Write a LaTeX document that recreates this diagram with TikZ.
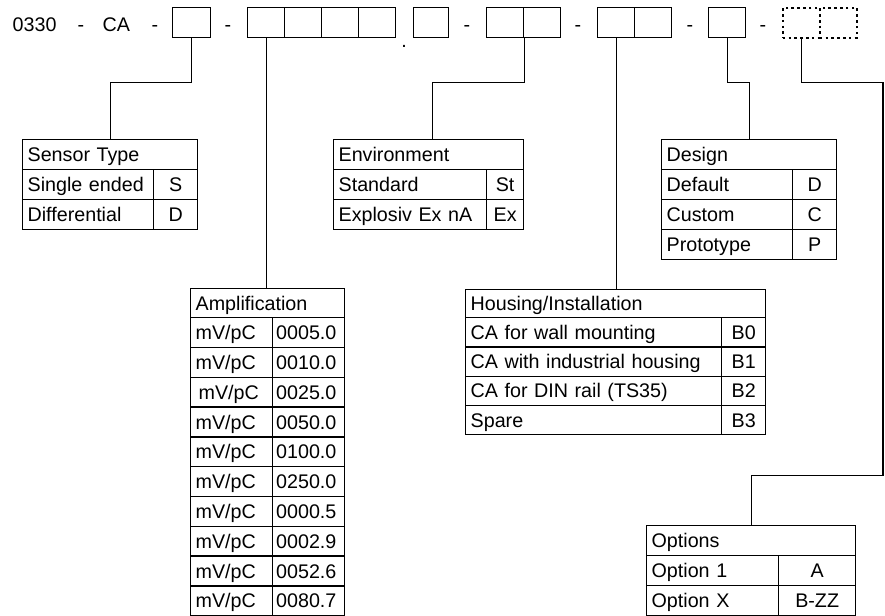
\documentclass[tikz,border=0pt]{standalone}
\usepackage{fontspec}
\setmainfont{Liberation Sans}
\usetikzlibrary{calc}

% table cells: left-aligned text, centred text, numbers with a narrow pad
\tikzset{
  every node/.style={font=\fontsize{19.7}{22}\selectfont},
  cellbase/.style={draw=black, line width=1.3pt, rectangle, anchor=north west,
    inner ysep=0pt, text height=14.1pt, text depth=0pt},
  cellleft/.style={cellbase, inner xsep=5pt, align=left},
  cellnum/.style={cellbase, inner xsep=3.5pt, align=left},
  cellmid/.style={cellbase, inner xsep=0pt, align=center},
  codebox/.style={draw=black, line width=1.3pt, rectangle, anchor=north west,
    inner sep=0pt, minimum height=30pt},
  spare/.style={codebox, line width=1.7pt, dash pattern=on 2.6pt off 3.2pt},
  conn/.style={draw=black, line width=1.3pt},
  lead/.style={anchor=base west, inner sep=0pt},
  sep/.style={anchor=base, inner sep=0pt}
}

\newcommand\cellL[6]{%
  \pgfmathsetmacro\tw{#4-10}%
  \node[cellleft, text width=\tw pt, minimum width=#4pt, minimum height=#5pt] (#1) at (#2,#3) {#6};}
\newcommand\cellN[6]{%
  \pgfmathsetmacro\tw{#4-7}%
  \node[cellnum, text width=\tw pt, minimum width=#4pt, minimum height=#5pt] (#1) at (#2,#3) {#6};}
\newcommand\cellC[6]{%
  \node[cellmid, minimum width=#4pt, minimum height=#5pt] (#1) at (#2,#3) {#6};}

\begin{document}
\begin{tikzpicture}[x=1pt, y=-1pt]
\useasboundingbox (0,0) rectangle (885,615);

% ---- order code line ----
\node[lead] (pre) at (12.5,31.7) {0330};
\node[sep] (s1) at (81,31.7) {-};
\node[lead] (ca) at (102.5,31.7) {CA};
\node[sep] (s2) at (155,31.7) {-};
\node[codebox, minimum width=38pt] (b1) at (172,7) {};
\node[sep] (s3) at (228,31.7) {-};
\node[codebox, minimum width=37pt] (a1) at (247,7) {};
\node[codebox, minimum width=37pt] (a2) at (284,7) {};
\node[codebox, minimum width=37pt] (a3) at (321,7) {};
\node[codebox, minimum width=37pt] (a4) at (358,7) {};
\node[sep] (dot) at (404,47.5) {.};
\node[codebox, minimum width=35pt] (a5) at (413,7) {};
\node[sep] (s4) at (467,31.7) {-};
\node[codebox, minimum width=37pt] (e1) at (486,7) {};
\node[codebox, minimum width=37pt] (e2) at (523,7) {};
\node[sep] (s5) at (578,31.7) {-};
\node[codebox, minimum width=37pt] (h1) at (597,7) {};
\node[codebox, minimum width=37pt] (h2) at (634,7) {};
\node[sep] (s6) at (690,31.7) {-};
\node[codebox, minimum width=37pt] (g1) at (708,7) {};
\node[sep] (s7) at (763,31.7) {-};
\node[spare, minimum width=37pt] (o1) at (782,7) {};
\node[spare, minimum width=37pt] (o2) at (819,7) {};

% ---- Sensor Type ----
\cellL{sensh}{22}{139}{175}{30}{Sensor Type}
\cellL{sens1}{22}{169}{131}{30}{Single ended}
\cellC{sensc1}{153}{169}{44}{30}{S}
\cellL{sens2}{22}{199}{131}{30}{Differential}
\cellC{sensc2}{153}{199}{44}{30}{D}

% ---- Environment ----
\cellL{envh}{333}{139}{190}{30}{Environment}
\cellL{env1}{333}{169}{153}{30}{Standard}
\cellC{envc1}{486}{169}{37}{30}{St}
\cellL{env2}{333}{199}{153}{30}{Explosiv Ex nA}
\cellC{envc2}{486}{199}{37}{30}{Ex}

% ---- Design ----
\cellL{dsgh}{661}{139}{175}{30}{Design}
\cellL{dsg1}{661}{169}{131}{30}{Default}
\cellC{dsgc1}{792}{169}{44}{30}{D}
\cellL{dsg2}{661}{199}{131}{30}{Custom}
\cellC{dsgc2}{792}{199}{44}{30}{C}
\cellL{dsg3}{661}{229}{131}{30}{Prototype}
\cellC{dsgc3}{792}{229}{44}{30}{P}

% ---- Amplification ----
\cellL{amph}{190}{288}{154}{29}{Amplification}
\foreach \v [count=\i] in {0005.0,0010.0,0025.0,0050.0,0100.0,0250.0,0000.5,0002.9,0052.6,0080.7}{
  \pgfmathsetmacro\yy{317+(\i-1)*29.8}
  \cellL{ampu\i}{190}{\yy}{82}{29.8}{\ifnum\i=3 \hspace*{3pt}\fi mV/pC}
  \cellN{ampv\i}{272}{\yy}{72}{29.8}{\v}
}

% ---- Housing/Installation ----
\cellL{hsgh}{465}{289}{300}{28}{Housing/Installation}
\cellL{hsg1}{465}{317}{256}{29.25}{CA for wall mounting}
\cellC{hsgc1}{721}{317}{44}{29.25}{B0}
\cellL{hsg2}{465}{346.25}{256}{29.25}{CA with industrial housing}
\cellC{hsgc2}{721}{346.25}{44}{29.25}{B1}
\cellL{hsg3}{465}{375.5}{256}{29.25}{CA for DIN rail (TS35)}
\cellC{hsgc3}{721}{375.5}{44}{29.25}{B2}
\cellL{hsg4}{465}{404.75}{256}{29.25}{Spare}
\cellC{hsgc4}{721}{404.75}{44}{29.25}{B3}

% ---- Options ----
\cellL{opth}{646}{525}{209}{30}{Options}
\cellL{opt1}{646}{555}{132}{30}{Option 1}
\cellC{optc1}{778}{555}{77}{30}{A}
\cellL{opt2}{646}{585}{132}{30}{Option X}
\cellC{optc2}{778}{585}{77}{30}{B-ZZ}

% ---- connectors ----
\draw[conn] (b1.south) -- (b1.south |- 0,82.7) -| (sensh.north);
\draw[conn] (a1.south) -- (a1.south |- amph.north);
\draw[conn] (e1.south east) -- (e1.south east |- 0,82.7) -| ($(envh.north)+(3.5,0)$);
\draw[conn] (h1.south) -- (h1.south |- hsgh.north);
\draw[conn] (g1.south) -- (g1.south |- 0,82.7) -| ($(dsgh.north west)+(88.5,0)$);
\coordinate (railtop) at (883,82.7);
\coordinate (railbot) at (883,475.7);
\draw[conn] (o1.south) |- (railtop) -- (railbot) -| (opth.north);
\end{tikzpicture}
\end{document}
